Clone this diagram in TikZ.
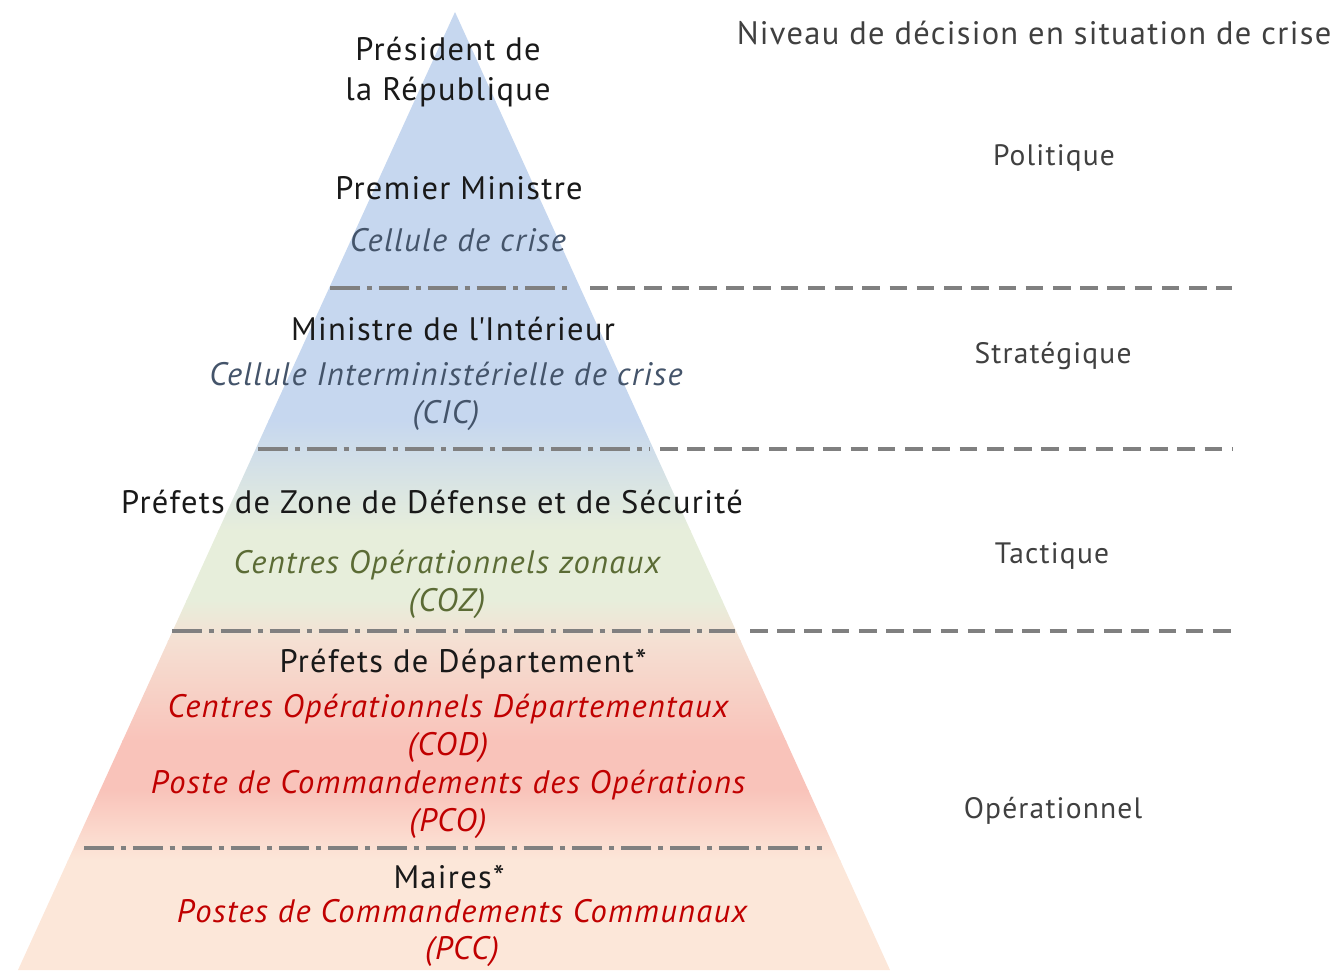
\documentclass[tikz,border=0pt]{standalone}
\usepackage{fontspec}
\setmainfont{PT Sans}[LetterSpace=4]
\usepackage{xcolor}
\usetikzlibrary{positioning}

\definecolor{pyrblue}{HTML}{C6D7EF}
\definecolor{pyrgreen}{HTML}{E7EEDB}
\definecolor{pyrpeach}{HTML}{F5E0D3}
\definecolor{pyrred}{HTML}{F9C3BA}
\definecolor{pyrsand}{HTML}{FCE7D9}
\definecolor{sepgray}{HTML}{808080}
\definecolor{txtblue}{HTML}{44546A}
\definecolor{txtgreen}{HTML}{5B6B35}
\definecolor{txtred}{HTML}{C00000}
\definecolor{txtlevel}{HTML}{404040}

\begin{document}
\begin{tikzpicture}[
    x=0.02cm, y=-0.02cm,
    every node/.style={inner sep=0pt, align=center},
    role/.style={font=\fontsize{18.5}{22.5}\selectfont, text=black!90},
    unit/.style={font=\fontsize{18.5}{21.5}\selectfont\itshape},
    level/.style={font=\fontsize{16.8}{20}\selectfont, text=txtlevel},
    sep/.style={line width=2.8pt, draw=sepgray},
    cut/.style={sep, dash pattern=on 17pt off 4pt on 2.8pt off 4pt},
    rule/.style={sep, dash pattern=on 10pt off 5.5pt},
]
\useasboundingbox (0,0) rectangle (1338,970);

% pyramid
\begin{scope}
\clip (455,12) -- (890,970) -- (18,970) -- cycle;
\fill[pyrblue] (0,0) rectangle (900,421);
\shade[top color=pyrblue, bottom color=pyrgreen] (0,420) rectangle (900,531);
\fill[pyrgreen] (0,530) rectangle (900,601);
\shade[top color=pyrgreen, bottom color=pyrpeach] (0,600) rectangle (900,641);
\shade[top color=pyrpeach, bottom color=pyrred] (0,640) rectangle (900,741);
\fill[pyrred] (0,740) rectangle (900,791);
\shade[top color=pyrred, bottom color=pyrsand] (0,790) rectangle (900,861);
\fill[pyrsand] (0,860) rectangle (900,971);
\end{scope}

% separations
\draw[cut] (330,288) -- (568,288);
\draw[rule] (590,288) -- (1232,288);
\draw[cut] (258,449) -- (650,449);
\draw[rule] (660,449) -- (1232,449);
\draw[cut] (172,631) -- (735,631);
\draw[rule] (750,631) -- (1232,631);
\draw[cut] (84,848) -- (822,848);

% levels of the pyramid
\node[role] (pres) at (448,72) {Président de\\la République};
\node[role] (pm) at (459,188) {Premier Ministre};
\node[unit, text=txtblue] (cdc) at (458,240) {Cellule de crise};
\node[role] (mint) at (453,329) {Ministre de l\textquotesingle Intérieur};
\node[unit, text=txtblue] (cic) at (446,396) {Cellule Interministérielle de crise\\(CIC)};
\node[role] (pzds) at (432,502) {Préfets de Zone de Défense et de Sécurité};
\node[unit, text=txtgreen] (coz) at (447,584) {Centres Opérationnels zonaux\\(COZ)};
\node[role] (pdep) at (463,664) {Préfets de Département*};
\node[unit, text=txtred] (cod) at (448,728) {Centres Opérationnels Départementaux\\(COD)};
\node[unit, text=txtred] (pco) at (448,804) {Poste de Commandements des Opérations\\(PCO)};
\node[role] (maires) at (449,877) {Maires*};
\node[unit, text=txtred] (pcc) at (462,933) {Postes de Commandements Communaux\\(PCC)};

% decision levels
\node[level, font=\fontsize{18.5}{22}\selectfont] (titre) at (1034,33) {Niveau de décision en situation de crise};
\node[level] (politique) at (1054,158) {Politique};
\node[level] (strat) at (1053,356) {Stratégique};
\node[level] (tact) at (1052,556) {Tactique};
\node[level] (oper) at (1053,811) {Opérationnel};
\end{tikzpicture}
\end{document}
